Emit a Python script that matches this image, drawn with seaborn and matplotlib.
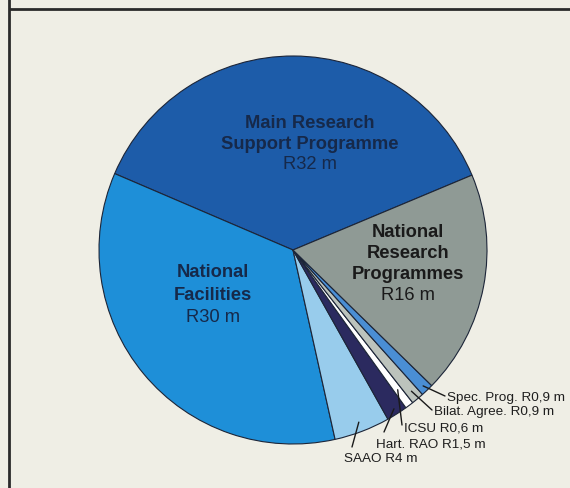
import matplotlib
matplotlib.use("Agg")
import numpy as np
import matplotlib.pyplot as plt
import seaborn as sns

sns.set_theme(style="white")
plt.rcParams["font.family"] = ["Liberation Sans", "DejaVu Sans"]

# Budget allocation (R million)
categories = ["Main Research Support Programme", "National Facilities", "SAAO",
              "Hart. RAO", "ICSU", "Bilat. Agree.", "Spec. Prog.",
              "National Research Programmes"]
values = [32, 30, 4, 1.5, 0.6, 0.9, 0.9, 16]
value_labels = ["R32 m", "R30 m", "R4 m", "R1,5 m", "R0,6 m", "R0,9 m", "R0,9 m", "R16 m"]
colors = ["#1d5ca9", "#1e8fd8", "#98ccec", "#2b2a5f", "#ffffff",
          "#bcc3bc", "#4a8ed4", "#8f9a95"]

W, H = 570, 489
bg = "#efeee5"
fig = plt.figure(figsize=(W / 100, H / 100), dpi=100, facecolor=bg)
ax = fig.add_axes([0, 0, 1, 1])
ax.set_facecolor(bg)


def Y(y):
    # page-style coordinate (from top) to axes coordinate (from bottom)
    return H - y


cx, cy, r = 293, Y(251), 194
wedges, _ = ax.pie(values, colors=colors, startangle=22.7, counterclock=True,
                   center=(cx, cy), radius=r, frame=True,
                   wedgeprops=dict(edgecolor="#1c2538", linewidth=0.8))
ax.set_xlim(0, W)
ax.set_ylim(0, H)
ax.set_aspect("equal")
ax.axis("off")

# frame lines
ax.plot([9, W], [Y(10), Y(10)], color="#2a2a2a", lw=2, solid_capstyle="butt")
ax.plot([9, 9], [0, H], color="#2a2a2a", lw=2, solid_capstyle="butt")

big = 13.2
dark_blue = "#16294a"
# Main Research Support Programme
ax.text(310, Y(124), "Main Research", ha="center", va="center",
        fontsize=big, fontweight="bold", color=dark_blue)
ax.text(310, Y(145), "Support Programme", ha="center", va="center",
        fontsize=big, fontweight="bold", color=dark_blue)
ax.text(310, Y(165), value_labels[0], ha="center", va="center",
        fontsize=big, color=dark_blue)

# National Facilities
ax.text(213, Y(273), "National", ha="center", va="center",
        fontsize=big, fontweight="bold", color=dark_blue)
ax.text(213, Y(296), "Facilities", ha="center", va="center",
        fontsize=big, fontweight="bold", color=dark_blue)
ax.text(213, Y(318), value_labels[1], ha="center", va="center",
        fontsize=big, color=dark_blue)

# National Research Programmes
for txt, yy in [("National", 233), ("Research", 254), ("Programmes", 275)]:
    ax.text(408, Y(yy), txt, ha="center", va="center",
            fontsize=big, fontweight="bold", color="#1a1a1a")
ax.text(408, Y(296), value_labels[7], ha="center", va="center",
        fontsize=big, color="#1a1a1a")

# small slices: leader line from inside the wedge to its label
small = 9.7
callouts = [
    # index, fraction of radius for the tip, line end, label anchor
    (6, 0.97, (445, 397), (447, 398)),
    (5, 0.95, (432, 411), (434, 412)),
    (4, 0.90, (402, 426), (404, 429)),
    (3, 0.97, (384, 433), (376, 445)),
    (2, 0.95, (352, 448), (344, 459)),
]
for i, frac, p1, pt in callouts:
    w = wedges[i]
    mid = np.deg2rad((w.theta1 + w.theta2) / 2)
    tx = cx + frac * r * np.cos(mid)
    ty = cy + frac * r * np.sin(mid)
    ax.plot([tx, p1[0]], [ty, Y(p1[1])], color="#1a1a1a", lw=1)
    ax.text(pt[0], Y(pt[1]), f"{categories[i]} {value_labels[i]}",
            ha="left", va="center", fontsize=small, color="#1e1e1e")

fig.savefig("out.png", dpi=100, facecolor=bg)
